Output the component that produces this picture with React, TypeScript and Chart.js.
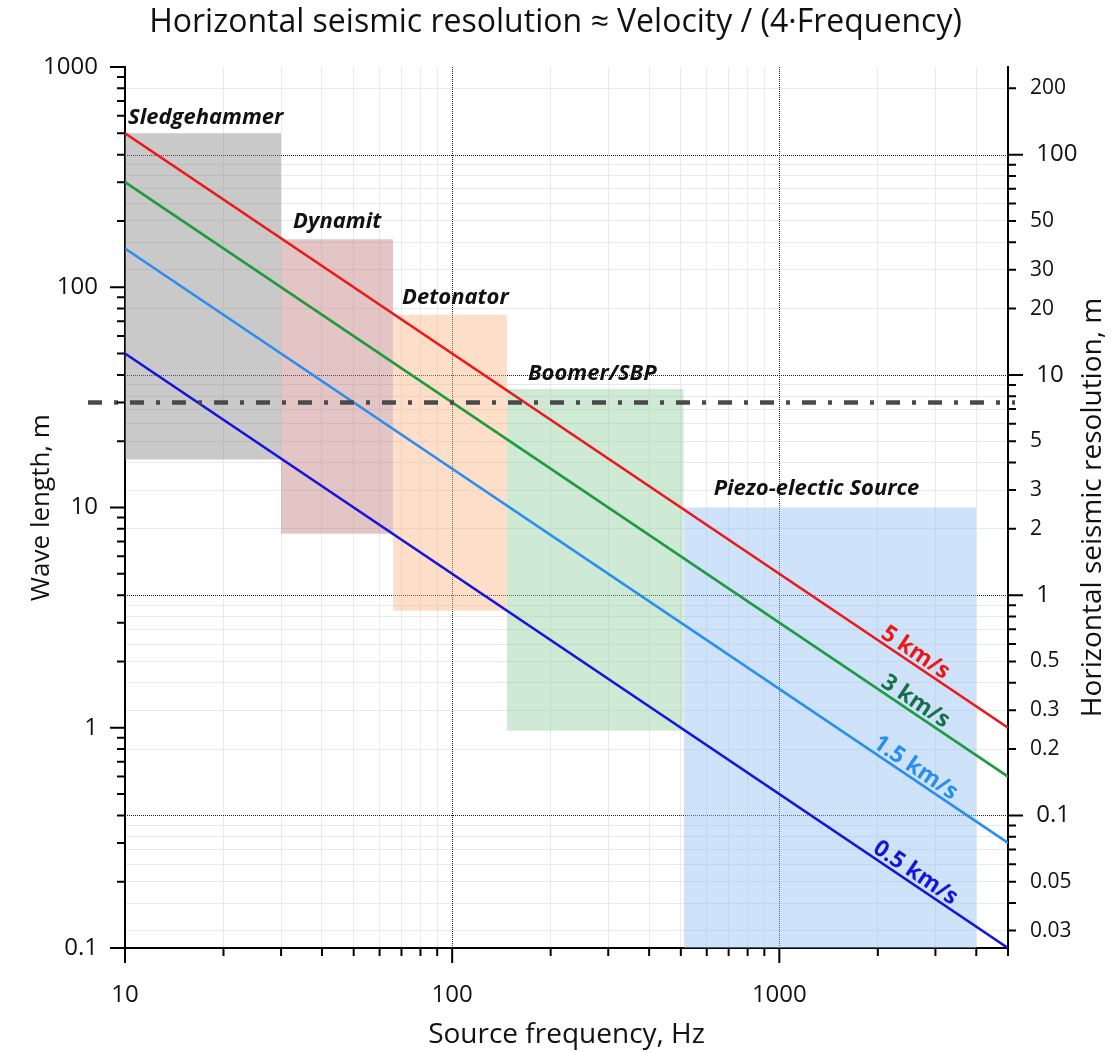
import { useEffect, useRef } from 'react';
import { Chart, registerables } from 'chart.js';

Chart.register(...registerables);

const FONT = '"Open Sans", sans-serif';

// ---------- data ----------
const FREQ_MIN = 10;
const FREQ_MAX = 5000;
const WAVE_MIN = 0.1;
const WAVE_MAX = 1000;
const RES_MIN = 0.025;
const RES_MAX = 250;

const VELOCITY_LABELS = ['5 km/s', '3 km/s', '1.5 km/s', '0.5 km/s'];
const LINE_FREQS = [10, 5000];
const WAVE_AT_10HZ = [500, 300, 150, 50];
const WAVE_AT_5000HZ = [1, 0.6, 0.3, 0.1];
const VELOCITY_LABEL_FREQ = 2500;

const SOURCE_NAMES = ['Sledgehammer', 'Dynamit', 'Detonator', 'Boomer/SBP', 'Piezo-electic Source'];
const SOURCE_FREQ_FROM = [10, 30, 66, 147, 510];
const SOURCE_FREQ_TO = [30, 66, 147, 510, 4000];
const SOURCE_WAVE_FROM = [16.5, 7.6, 3.4, 0.97, 0.1];
const SOURCE_WAVE_TO = [500, 165, 75, 34.5, 10];

const LIMIT_WAVELENGTH = 30;

const X_TICKS = [10, 20, 30, 40, 50, 60, 70, 80, 90, 100, 200, 300, 400, 500, 600, 700, 800, 900, 1000, 2000, 3000, 4000, 5000];
const X_TICK_LABELS = ['10', '100', '1000'];
const X_MAJOR = ['10', '100', '1000'];
const X_DOTTED = [100, 1000];

const LEFT_TICKS = [0.1, 0.2, 0.3, 0.4, 0.5, 0.6, 0.7, 0.8, 0.9, 1, 2, 3, 4, 5, 6, 7, 8, 9, 10, 20, 30, 40, 50, 60, 70, 80, 90, 100, 200, 300, 400, 500, 600, 700, 800, 900, 1000];
const LEFT_TICK_LABELS = ['0.1', '1', '10', '100', '1000'];

const RIGHT_TICKS = [0.03, 0.04, 0.05, 0.06, 0.07, 0.08, 0.09, 0.1, 0.2, 0.3, 0.4, 0.5, 0.6, 0.7, 0.8, 0.9, 1, 2, 3, 4, 5, 6, 7, 8, 9, 10, 20, 30, 40, 50, 60, 70, 80, 90, 100, 200];
const RIGHT_TICK_LABELS = ['0.03', '0.05', '0.1', '0.2', '0.3', '0.5', '1', '2', '3', '5', '10', '20', '30', '50', '100', '200'];
const RIGHT_MAJOR = ['0.1', '1', '10', '100'];
const RIGHT_DOTTED = [0.1, 1, 10, 100];

const TITLE = 'Horizontal seismic resolution \u2248 Velocity / (4\u00B7Frequency)';
const X_TITLE = 'Source frequency, Hz';
const Y_TITLE = 'Wave length, m';
const Y2_TITLE = 'Horizontal seismic resolution, m';

// ---------- styles ----------
const LINE_COLORS = ['#ee1616', '#1f9a3e', '#2a8ef0', '#1414dc'];
const LINE_LABEL_COLORS = ['#ee1616', '#16704a', '#2a8ef0', '#1414dc'];
const SOURCE_COLORS = [
  'rgba(140,140,140,0.47)',
  'rgba(190,120,120,0.43)',
  'rgba(250,185,135,0.45)',
  'rgba(150,210,165,0.47)',
  'rgba(150,195,245,0.47)',
];
const SOURCE_LABEL_OFFSETS = [[3, -9], [12, -11], [9, -11], [21, -9], [30, -13]];
const MINOR_GRID = '#e9e9e9';

const fmt = (v: number) => String(+v.toPrecision(6));

const decorPlugin = {
  id: 'decor',
  beforeDatasetsDraw(chart: any) {
    const { ctx, chartArea: a, scales } = chart;
    ctx.save();
    ctx.strokeStyle = '#222';
    ctx.lineWidth = 1;
    ctx.setLineDash([1, 1]);
    for (const v of X_DOTTED) {
      const px = Math.round(scales.x.getPixelForValue(v)) + 0.5;
      ctx.beginPath();
      ctx.moveTo(px, a.top);
      ctx.lineTo(px, a.bottom);
      ctx.stroke();
    }
    for (const v of RIGHT_DOTTED) {
      const py = Math.round(scales.yRight.getPixelForValue(v)) + 0.5;
      ctx.beginPath();
      ctx.moveTo(a.left, py);
      ctx.lineTo(a.right, py);
      ctx.stroke();
    }
    ctx.restore();
  },
  afterDatasetsDraw(chart: any) {
    const { ctx, chartArea: a, scales } = chart;
    const xs = scales.x;
    const ys = scales.y;
    ctx.save();
    // dash-dot limit line
    const ly = ys.getPixelForValue(LIMIT_WAVELENGTH);
    ctx.strokeStyle = '#4a4a4a';
    ctx.lineWidth = 4.5;
    ctx.setLineDash([14, 12, 4, 12]);
    ctx.beginPath();
    ctx.moveTo(a.left - 37, ly);
    ctx.lineTo(a.right + 7, ly);
    ctx.stroke();
    ctx.setLineDash([]);

    // source labels
    ctx.font = `italic bold 22px ${FONT}`;
    ctx.fillStyle = '#111';
    ctx.textAlign = 'left';
    ctx.textBaseline = 'alphabetic';
    SOURCE_NAMES.forEach((name, i) => {
      const px = xs.getPixelForValue(SOURCE_FREQ_FROM[i]) + SOURCE_LABEL_OFFSETS[i][0];
      const py = ys.getPixelForValue(SOURCE_WAVE_TO[i]) + SOURCE_LABEL_OFFSETS[i][1];
      ctx.fillText(name, px, py);
    });

    // velocity labels
    ctx.font = `bold 23px ${FONT}`;
    ctx.textAlign = 'center';
    VELOCITY_LABELS.forEach((label, i) => {
      const x0 = xs.getPixelForValue(LINE_FREQS[0]);
      const y0 = ys.getPixelForValue(WAVE_AT_10HZ[i]);
      const x1 = xs.getPixelForValue(LINE_FREQS[1]);
      const y1 = ys.getPixelForValue(WAVE_AT_5000HZ[i]);
      const ang = Math.atan2(y1 - y0, x1 - x0);
      const px = xs.getPixelForValue(VELOCITY_LABEL_FREQ);
      const t = (px - x0) / (x1 - x0);
      const py = y0 + t * (y1 - y0);
      ctx.save();
      ctx.translate(px, py);
      ctx.rotate(ang);
      ctx.fillStyle = LINE_LABEL_COLORS[i];
      ctx.fillText(label, 0, -4);
      ctx.restore();
    });
    ctx.restore();
  },
  afterDraw(chart: any) {
    const { ctx, chartArea: a, scales } = chart;
    ctx.save();
    ctx.strokeStyle = '#000';
    ctx.lineWidth = 2;
    ctx.beginPath();
    for (const v of X_TICKS) {
      const px = scales.x.getPixelForValue(v);
      const len = X_MAJOR.includes(fmt(v)) ? 15 : 8;
      ctx.moveTo(px, a.bottom);
      ctx.lineTo(px, a.bottom + len);
    }
    for (const v of LEFT_TICKS) {
      const py = scales.y.getPixelForValue(v);
      const len = LEFT_TICK_LABELS.includes(fmt(v)) ? 15 : 8;
      ctx.moveTo(a.left - len, py);
      ctx.lineTo(a.left, py);
    }
    for (const v of RIGHT_TICKS) {
      const py = scales.yRight.getPixelForValue(v);
      const len = RIGHT_MAJOR.includes(fmt(v)) ? 15 : 8;
      ctx.moveTo(a.right, py);
      ctx.lineTo(a.right + len, py);
    }
    ctx.stroke();

    // right axis title (reads bottom to top)
    ctx.font = `28px ${FONT}`;
    ctx.fillStyle = '#111';
    ctx.textAlign = 'center';
    ctx.textBaseline = 'middle';
    ctx.translate(1093, (a.top + a.bottom) / 2);
    ctx.rotate(-Math.PI / 2);
    ctx.fillText(Y2_TITLE, 0, 0);
    ctx.restore();
  },
};

export default function App() {
  const ref = useRef<HTMLCanvasElement>(null);

  useEffect(() => {
    document.body.style.margin = '0';
    const canvas = ref.current;
    if (!canvas) return;

    const lineSets = VELOCITY_LABELS.map((label, i) => ({
      type: 'line' as const,
      label,
      data: [
        { x: LINE_FREQS[0], y: WAVE_AT_10HZ[i] },
        { x: LINE_FREQS[1], y: WAVE_AT_5000HZ[i] },
      ],
      borderColor: LINE_COLORS[i],
      borderWidth: 2.6,
      pointRadius: 0,
      fill: false,
      yAxisID: 'y',
      order: 0,
    }));

    const boxSets = SOURCE_NAMES.map((name, i) => ({
      type: 'line' as const,
      label: name,
      data: [
        { x: SOURCE_FREQ_FROM[i], y: SOURCE_WAVE_TO[i] },
        { x: SOURCE_FREQ_TO[i], y: SOURCE_WAVE_TO[i] },
      ],
      borderWidth: 0,
      borderColor: 'rgba(0,0,0,0)',
      backgroundColor: SOURCE_COLORS[i],
      pointRadius: 0,
      fill: { value: SOURCE_WAVE_FROM[i] },
      yAxisID: 'y',
      order: 5,
    }));

    const chart = new Chart(canvas, {
      type: 'line',
      data: { datasets: [...lineSets, ...boxSets] as any },
      plugins: [decorPlugin],
      options: {
        animation: false,
        responsive: false,
        devicePixelRatio: 1,
        layout: { padding: 0 },
        plugins: {
          legend: { display: false },
          tooltip: { enabled: false },
          title: {
            display: true,
            text: TITLE,
            color: '#111',
            font: { family: FONT, size: 32, weight: 'normal' },
            padding: { top: 4, bottom: 24.6 },
          },
        },
        scales: {
          x: {
            type: 'logarithmic',
            position: 'bottom',
            min: FREQ_MIN,
            max: FREQ_MAX,
            bounds: 'data',
            afterBuildTicks: (s: any) => {
              s.ticks = X_TICKS.map((v) => ({ value: v }));
            },
            afterFit: (s: any) => {
              s.height = 104;
            },
            ticks: {
              autoSkip: false,
              maxRotation: 0,
              minRotation: 0,
              padding: 33,
              color: '#111',
              font: { family: FONT, size: 24 },
              callback: (v: any) => (X_TICK_LABELS.includes(fmt(Number(v))) ? fmt(Number(v)) : ''),
            },
            grid: {
              drawTicks: false,
              lineWidth: 1,
              color: (c: any) => {
                const v = c.tick ? fmt(c.tick.value) : '';
                return ['10', '100', '1000', '5000'].includes(v) ? 'rgba(0,0,0,0)' : MINOR_GRID;
              },
            },
            border: { display: true, color: '#000', width: 2 },
            title: {
              display: true,
              text: X_TITLE,
              color: '#111',
              font: { family: FONT, size: 28 },
              padding: { top: 0, bottom: 0 },
            },
          },
          y: {
            type: 'logarithmic',
            position: 'left',
            min: WAVE_MIN,
            max: WAVE_MAX,
            bounds: 'data',
            afterBuildTicks: (s: any) => {
              s.ticks = LEFT_TICKS.map((v) => ({ value: v }));
            },
            afterFit: (s: any) => {
              s.width = 125;
            },
            ticks: {
              autoSkip: false,
              padding: 27,
              color: '#111',
              font: { family: FONT, size: 24 },
              callback: (v: any) => (LEFT_TICK_LABELS.includes(fmt(Number(v))) ? fmt(Number(v)) : ''),
            },
            grid: { drawTicks: false, drawOnChartArea: false },
            border: { display: true, color: '#000', width: 2 },
            title: {
              display: true,
              text: Y_TITLE,
              color: '#111',
              font: { family: FONT, size: 26 },
              padding: { top: 26, bottom: 0 },
            },
          },
          yRight: {
            type: 'logarithmic',
            position: 'right',
            min: RES_MIN,
            max: RES_MAX,
            bounds: 'data',
            afterBuildTicks: (s: any) => {
              s.ticks = RIGHT_TICKS.map((v) => ({ value: v }));
            },
            afterFit: (s: any) => {
              s.width = 103;
            },
            ticks: {
              autoSkip: false,
              padding: 22,
              color: '#111',
              font: (c: any) => ({
                family: FONT,
                size: c.tick && RIGHT_MAJOR.includes(fmt(c.tick.value)) ? 24 : 21,
              }),
              callback: (v: any) => {
                const s = fmt(Number(v));
                if (!RIGHT_TICK_LABELS.includes(s)) return '';
                return RIGHT_MAJOR.includes(s) ? ' ' + s : s;
              },
            },
            grid: {
              drawTicks: false,
              lineWidth: 1,
              color: (c: any) => {
                const v = c.tick ? fmt(c.tick.value) : '';
                return RIGHT_MAJOR.includes(v) ? 'rgba(0,0,0,0)' : MINOR_GRID;
              },
            },
            border: { display: true, color: '#000', width: 2 },
          },
        },
      } as any,
    });

    return () => chart.destroy();
  }, []);

  return <canvas ref={ref} width={1111} height={1052} style={{ display: 'block' }} />;
}
